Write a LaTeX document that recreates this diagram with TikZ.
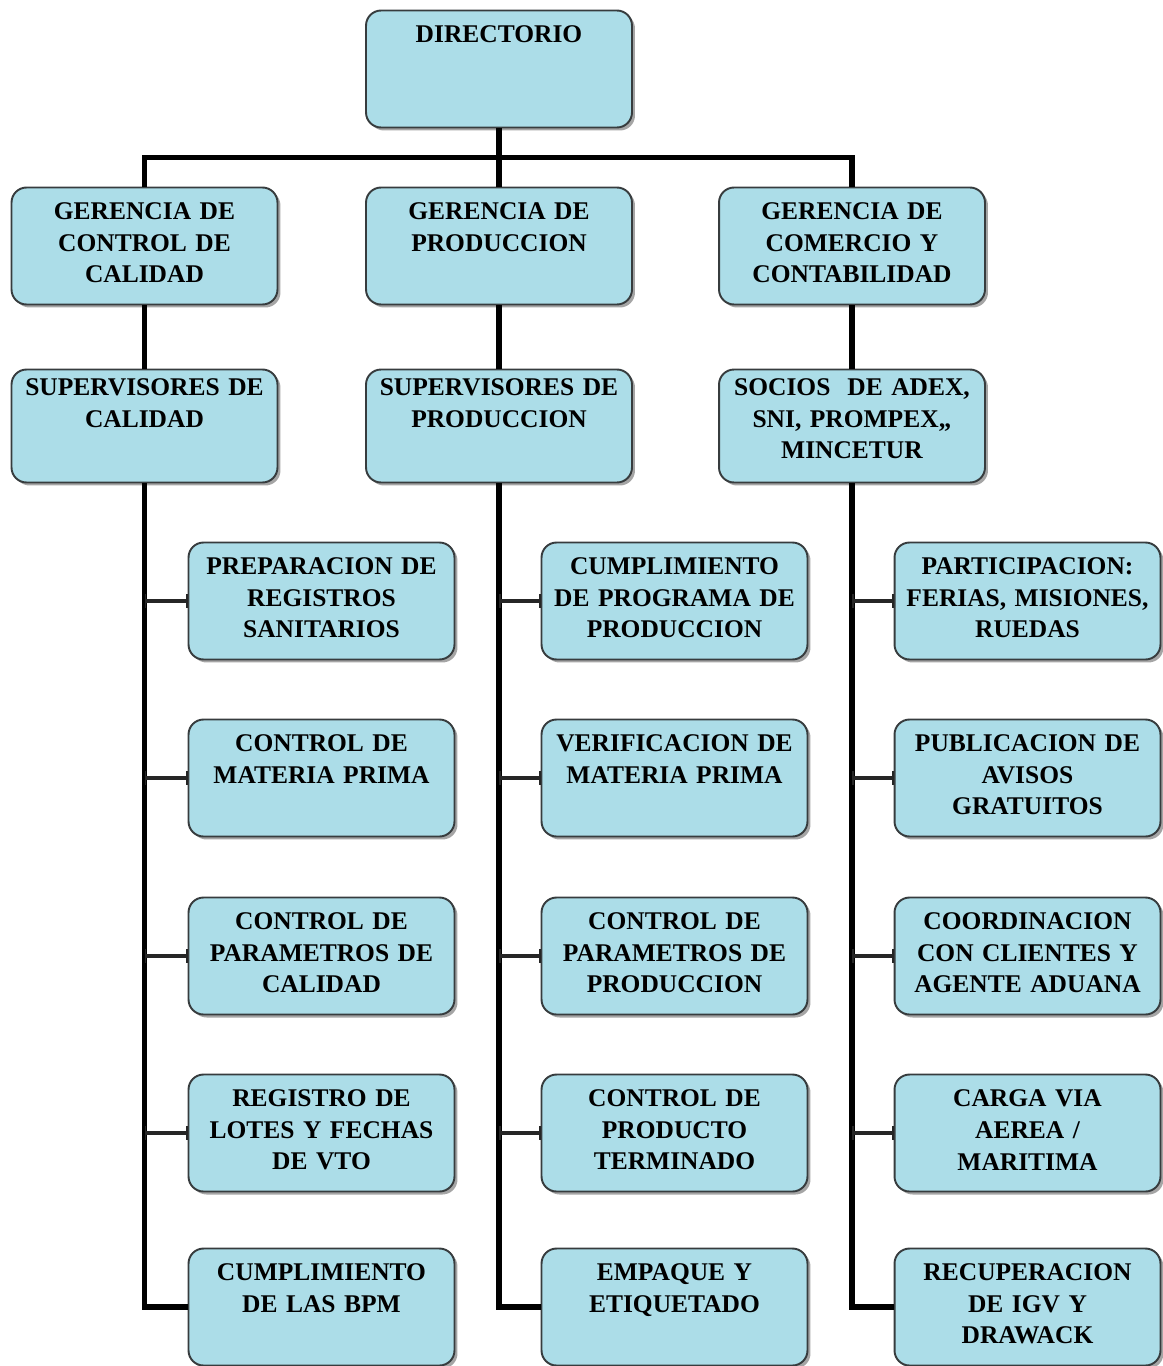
\documentclass[tikz,border=0pt]{standalone}
\usepackage{fontspec}
\setmainfont{Liberation Serif}
\usepackage{xcolor}
\usetikzlibrary{arrows.meta, calc, shadows}
\definecolor{boxblue}{RGB}{172,221,232}
\definecolor{boxline}{RGB}{55,60,62}

\begin{document}
\begin{tikzpicture}[x=0.02cm, y=-0.02cm,
  every node/.style={font=\fontsize{14.5}{18}\selectfont\bfseries},
  orgbox/.style={draw=boxline, line width=1.1pt, rounded corners=0.3cm, fill=boxblue, align=center, text width=5.1cm, inner xsep=0.1cm, inner ysep=0pt, minimum width=5.32cm, minimum height=2.34cm, drop shadow={shadow xshift=0.6mm, shadow yshift=-0.6mm, fill=black!70, opacity=0.5}, execute at end node={\endgraf\vspace{0.12cm}}},
  supbox/.style={orgbox, minimum height=2.26cm, execute at end node={\vspace{0.16cm}}},
  trunk/.style={line width=3.3pt, black},
  branch/.style={line width=2.6pt, black!85, {Bar[width=2.8mm, line width=1pt 0]}-{Bar[width=2.8mm, line width=1pt 0]}}]
  \useasboundingbox (0,0) rectangle (1163,1366);
  \node[orgbox] (dir) at (499,69) {DIRECTORIO\\\mbox{}\\\mbox{}};
  \node[orgbox] (gcal) at (144.5,246) {GERENCIA DE\\CONTROL DE\\CALIDAD};
  \node[orgbox] (gprod) at (499,246) {GERENCIA DE\\PRODUCCION\\\mbox{}};
  \node[orgbox] (gcom) at (852,246) {GERENCIA DE\\COMERCIO Y\\CONTABILIDAD};
  \node[supbox] (scal) at (144.5,426) {SUPERVISORES DE\\CALIDAD\\\mbox{}};
  \node[supbox] (sprod) at (499,426) {SUPERVISORES DE\\PRODUCCION\\\mbox{}};
  \node[supbox] (scom) at (852,426) {SOCIOS\ \ DE ADEX,\\SNI, PROMPEX,,\\MINCETUR};
  \node[orgbox] (cal1) at (321.5,601) {PREPARACION DE\\REGISTROS\\SANITARIOS};
  \node[orgbox] (cal2) at (321.5,778) {CONTROL DE\\MATERIA PRIMA\\\mbox{}};
  \node[orgbox] (cal3) at (321.5,956) {CONTROL DE\\PARAMETROS DE\\CALIDAD};
  \node[orgbox] (cal4) at (321.5,1133) {REGISTRO DE\\LOTES Y FECHAS\\DE VTO};
  \node[orgbox] (cal5) at (321.5,1307) {CUMPLIMIENTO\\DE LAS BPM\\\mbox{}};
  \node[orgbox] (prod1) at (674.5,601) {CUMPLIMIENTO\\DE PROGRAMA DE\\PRODUCCION};
  \node[orgbox] (prod2) at (674.5,778) {VERIFICACION DE\\MATERIA PRIMA\\\mbox{}};
  \node[orgbox] (prod3) at (674.5,956) {CONTROL DE\\PARAMETROS DE\\PRODUCCION};
  \node[orgbox] (prod4) at (674.5,1133) {CONTROL DE\\PRODUCTO\\TERMINADO};
  \node[orgbox] (prod5) at (674.5,1307) {EMPAQUE Y\\ETIQUETADO\\\mbox{}};
  \node[orgbox] (com1) at (1027.5,601) {PARTICIPACION:\\FERIAS, MISIONES,\\RUEDAS};
  \node[orgbox] (com2) at (1027.5,778) {PUBLICACION DE\\AVISOS\\GRATUITOS};
  \node[orgbox] (com3) at (1027.5,956) {COORDINACION\\CON CLIENTES Y\\AGENTE ADUANA};
  \node[orgbox] (com4) at (1027.5,1133) {CARGA VIA\\AEREA /\\MARITIMA};
  \node[orgbox] (com5) at (1027.5,1307) {RECUPERACION\\DE IGV Y\\DRAWACK};
  \draw[trunk] (dir.south) -- (gprod.north);
  \draw[trunk] (gcal.north) |- ($(dir.south)!0.5!(gprod.north)$) -| (gcom.north);
  \draw[trunk] (gcal.south) -- (scal.north);
  \draw[trunk] (gprod.south) -- (sprod.north);
  \draw[trunk] (gcom.south) -- (scom.north);
  \draw[trunk] (scal.south) |- (cal5.west);
  \draw[trunk] (sprod.south) |- (prod5.west);
  \draw[trunk] (scom.south) |- (com5.west);
  \draw[branch] (scal.south |- cal1.west) -- (cal1.west);
  \draw[branch] (scal.south |- cal2.west) -- (cal2.west);
  \draw[branch] (scal.south |- cal3.west) -- (cal3.west);
  \draw[branch] (scal.south |- cal4.west) -- (cal4.west);
  \draw[branch] (sprod.south |- prod1.west) -- (prod1.west);
  \draw[branch] (sprod.south |- prod2.west) -- (prod2.west);
  \draw[branch] (sprod.south |- prod3.west) -- (prod3.west);
  \draw[branch] (sprod.south |- prod4.west) -- (prod4.west);
  \draw[branch] (scom.south |- com1.west) -- (com1.west);
  \draw[branch] (scom.south |- com2.west) -- (com2.west);
  \draw[branch] (scom.south |- com3.west) -- (com3.west);
  \draw[branch] (scom.south |- com4.west) -- (com4.west);
\end{tikzpicture}
\end{document}
